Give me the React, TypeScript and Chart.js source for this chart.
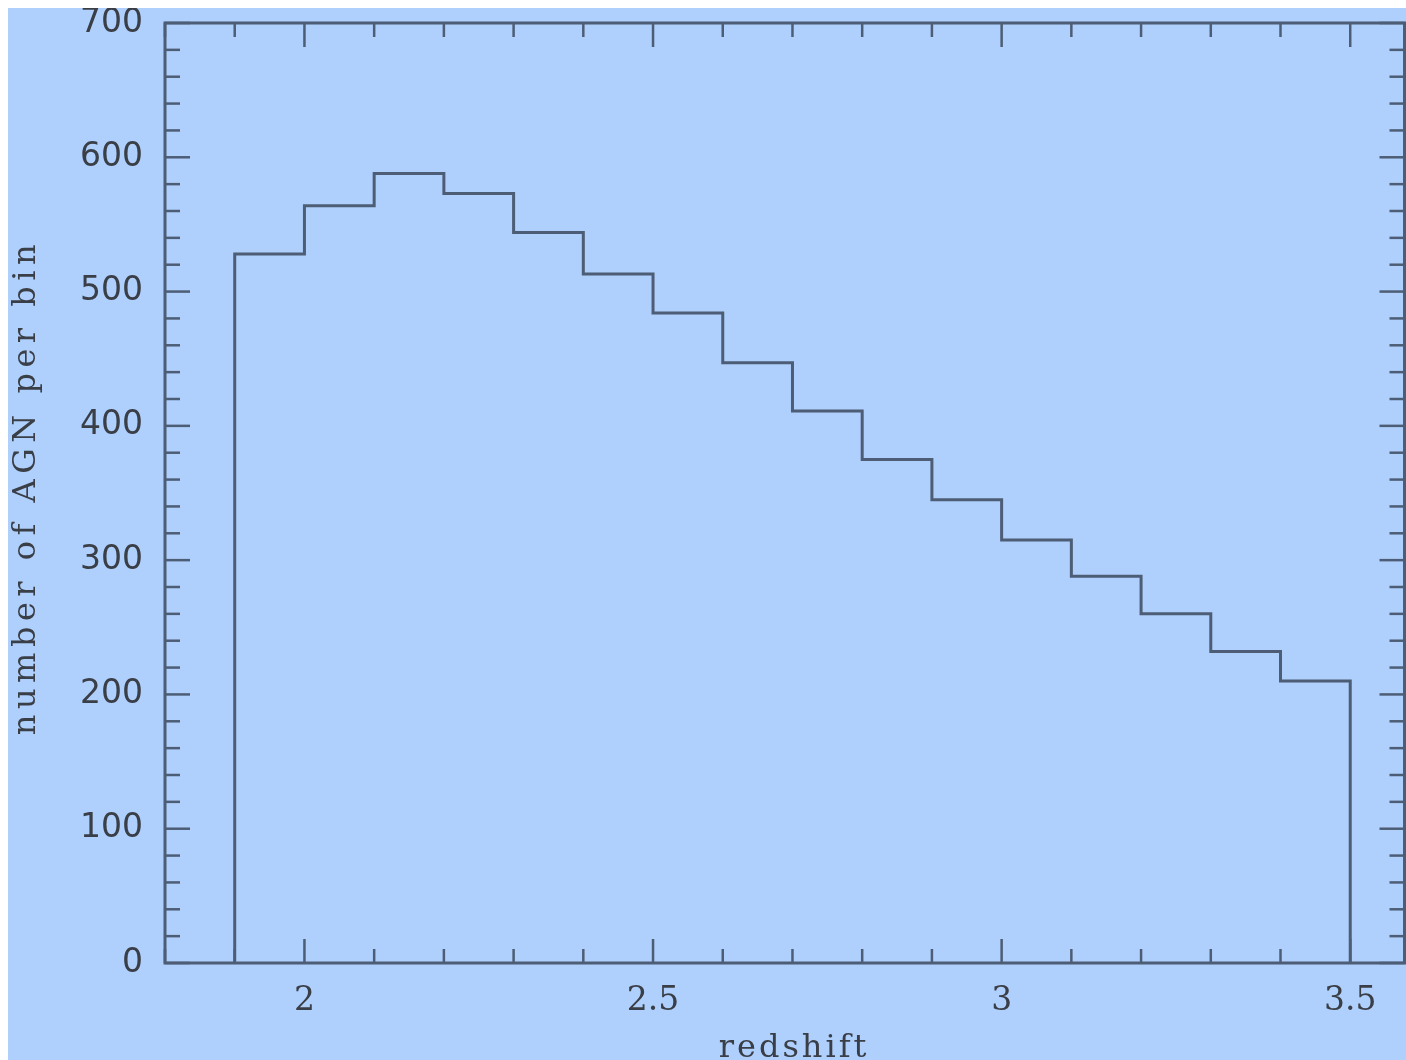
import React, { useEffect, useRef } from "react";
import { Chart, registerables } from "chart.js";

Chart.register(...registerables);

// Histogram: number of AGN per redshift bin (bin width 0.1)
const binStarts = [1.9, 2.0, 2.1, 2.2, 2.3, 2.4, 2.5, 2.6, 2.7, 2.8, 2.9, 3.0, 3.1, 3.2, 3.3, 3.4];
const binEnd = 3.5;
const counts = [528, 564, 588, 573, 544, 513, 484, 447, 411, 375, 345, 315, 288, 260, 232, 210];

const xTickValues = [2, 2.5, 3, 3.5];
const xTickLabels = ["2", "2.5", "3", "3.5"];
const yTickValues = [0, 100, 200, 300, 400, 500, 600, 700];

const X_MIN = 1.8;
const X_MAX = 3.58;
const Y_MIN = 0;
const Y_MAX = 700;
const X_MINOR_STEP = 0.1;
const Y_MINOR_STEP = 20;

const xTitle = "redshift";
const yTitle = "number of AGN per bin";

const BG = "#afd0fd";
const INK = "#4d5d75";
const TEXT = "#3a3e46";

const framePlugin = {
  id: "frameAndTitles",
  afterDraw(chart: any) {
    const { ctx, chartArea: a, scales } = chart;
    const x = scales.x;
    const y = scales.y;
    ctx.save();
    ctx.strokeStyle = INK;
    ctx.lineWidth = 3;
    ctx.strokeRect(a.left, a.top, a.right - a.left - 1.5, a.bottom - a.top);
    ctx.lineWidth = 2.5;
    const seg = (x1: number, y1: number, x2: number, y2: number) => {
      ctx.beginPath();
      ctx.moveTo(x1, y1);
      ctx.lineTo(x2, y2);
      ctx.stroke();
    };
    const right = a.right - 1.5;
    // y ticks (left and right, inward)
    for (let i = 0; Y_MIN + i * Y_MINOR_STEP <= Y_MAX + 1e-9; i++) {
      const v = Y_MIN + i * Y_MINOR_STEP;
      const major = yTickValues.includes(v);
      const len = major ? 25 : 15;
      const py = y.getPixelForValue(v);
      seg(a.left, py, a.left + len, py);
      seg(right, py, right - len, py);
    }
    // x ticks (bottom and top, inward)
    for (let i = 0; X_MIN + i * X_MINOR_STEP <= X_MAX + 1e-9; i++) {
      const v = Math.round((X_MIN + i * X_MINOR_STEP) * 10) / 10;
      const major = xTickValues.some((t) => Math.abs(t - v) < 1e-9);
      const len = major ? 24 : 14;
      const px = x.getPixelForValue(v);
      seg(px, a.bottom, px, a.bottom - len);
      seg(px, a.top, px, a.top + len);
    }
    // axis titles (letter spaced, like the original plot)
    ctx.fillStyle = TEXT;
    ctx.textAlign = "center";
    ctx.textBaseline = "alphabetic";
    ctx.font = "32px 'DejaVu Serif', serif";
    (ctx as any).letterSpacing = "3px";
    ctx.fillText(xTitle, 786, 1049);
    ctx.translate(27, 482);
    ctx.rotate(-Math.PI / 2);
    (ctx as any).letterSpacing = "5.5px";
    ctx.fillText(yTitle, 3, 0);
    ctx.restore();
  },
};

export default function App() {
  const canvasRef = useRef<HTMLCanvasElement | null>(null);

  useEffect(() => {
    if (!canvasRef.current) return;
    const points = [
      { x: binStarts[0], y: 0 },
      ...binStarts.map((b, i) => ({ x: b, y: counts[i] })),
      { x: binEnd, y: 0 },
    ];
    const chart = new Chart(canvasRef.current, {
      type: "line",
      data: {
        datasets: [
          {
            label: "AGN",
            data: points,
            stepped: "before",
            borderColor: INK,
            borderWidth: 3,
            pointRadius: 0,
            fill: false,
          },
        ],
      },
      options: {
        animation: false,
        responsive: true,
        maintainAspectRatio: false,
        layout: { padding: { top: 15, right: 0, left: 0, bottom: 0 } },
        plugins: {
          legend: { display: false },
          tooltip: { enabled: false },
          title: { display: false },
        },
        scales: {
          x: {
            type: "linear",
            min: X_MIN,
            max: X_MAX,
            grid: { display: false, drawTicks: false },
            border: { display: false },
            afterBuildTicks: (s: any) => {
              s.ticks = xTickValues.map((v) => ({ value: v }));
            },
            afterFit: (s: any) => {
              s.height = 97;
              s.paddingLeft = 0;
              s.paddingRight = 0;
            },
            ticks: {
              autoSkip: false,
              maxRotation: 0,
              padding: 19,
              color: TEXT,
              font: { family: "'DejaVu Serif', serif", size: 33 },
              callback: (v: any) => {
                const i = xTickValues.findIndex((t) => Math.abs(t - Number(v)) < 1e-9);
                return i >= 0 ? xTickLabels[i] : "";
              },
            },
          },
          y: {
            type: "linear",
            min: Y_MIN,
            max: Y_MAX,
            grid: { display: false, drawTicks: false },
            border: { display: false },
            afterBuildTicks: (s: any) => {
              s.ticks = yTickValues.map((v) => ({ value: v }));
            },
            afterFit: (s: any) => {
              s.width = 157;
              s.paddingTop = 0;
              s.paddingBottom = 0;
            },
            ticks: {
              autoSkip: false,
              padding: 22,
              color: TEXT,
              font: { family: "'DejaVu Sans', sans-serif", size: 33 },
            },
          },
        },
      },
      plugins: [framePlugin],
    });
    return () => chart.destroy();
  }, []);

  return (
    <div
      style={{
        position: "fixed",
        left: 8,
        top: 8,
        width: 1398,
        height: 1052,
        background: BG,
      }}
    >
      <canvas ref={canvasRef} />
    </div>
  );
}
